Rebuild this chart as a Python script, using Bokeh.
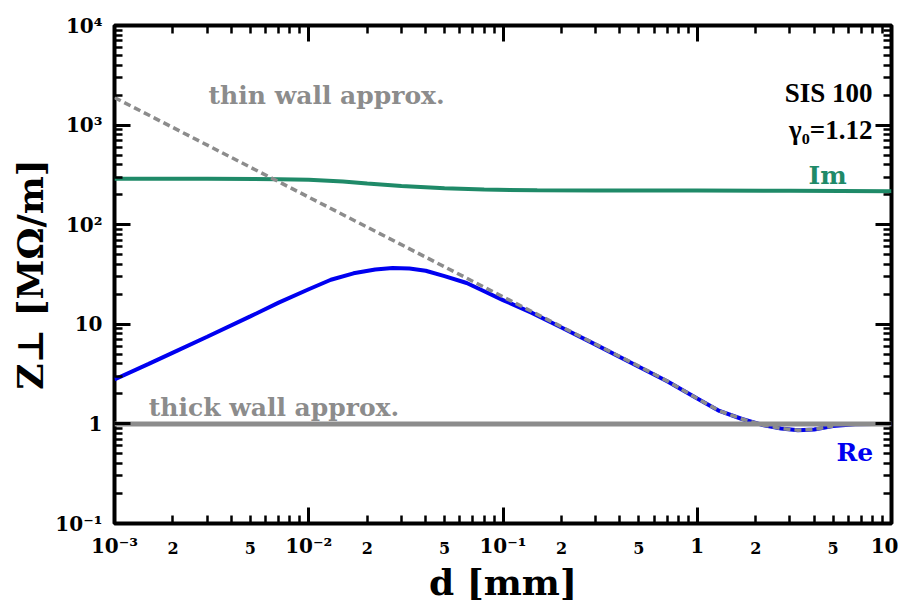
import numpy as np
from bokeh.plotting import figure
from bokeh.models import LogAxis, FixedTicker, Label, Range1d, Title
from bokeh.embed import file_html
from bokeh.resources import INLINE

# ---- data ----
d_im = [0.001, 0.003, 0.007, 0.01, 0.015, 0.02, 0.03, 0.05, 0.08, 0.15, 0.3, 1.0, 3.0, 10.0]
im_vals = [290, 290, 286, 282, 272, 259, 244, 232, 225, 222, 221, 220, 219, 217]

d_re = [0.001, 0.0015, 0.002, 0.003, 0.005, 0.007, 0.01, 0.013, 0.017, 0.022, 0.027,
        0.033, 0.04, 0.05, 0.065, 0.08, 0.1, 0.14, 0.2, 0.3, 0.5, 0.7, 1.0, 1.3, 1.7,
        2.2, 2.7, 3.3, 4.0, 5.0, 6.5, 8.0, 10.0]
re_vals = [2.8, 4.0, 5.2, 7.5, 12.0, 16.5, 22.5, 28.0, 32.5, 35.5, 36.7,
           36.3, 34.5, 30.5, 26.0, 21.5, 17.5, 13.1, 9.3, 6.25, 3.75, 2.68, 1.8, 1.35, 1.12,
           0.97, 0.9, 0.865, 0.88, 0.95, 0.99, 1.0, 1.0]

d_thin = [0.001, 0.01, 0.1, 0.3, 0.5, 0.7, 1.0, 1.3, 1.7, 2.2, 2.7, 3.3, 4.0, 5.0]
thin_vals = [1890, 189, 18.9, 6.3, 3.8, 2.7, 1.8, 1.35, 1.12, 0.97, 0.9, 0.865, 0.88, 0.95]

d_thick = [0.001, 10.0]
thick_vals = [1.0, 1.0]

x_major = [0.001, 0.01, 0.1, 1.0, 10.0]
x_major_labels = ["10⁻³", "10⁻²", "10⁻¹", "1", "10"]
x_minor = [0.002, 0.003, 0.004, 0.005, 0.006, 0.007, 0.008, 0.009,
           0.02, 0.03, 0.04, 0.05, 0.06, 0.07, 0.08, 0.09,
           0.2, 0.3, 0.4, 0.5, 0.6, 0.7, 0.8, 0.9,
           2, 3, 4, 5, 6, 7, 8, 9]
x_small = [0.002, 0.005, 0.02, 0.05, 0.2, 0.5, 2, 5]
x_small_labels = ["2", "5", "2", "5", "2", "5", "2", "5"]

y_major = [0.1, 1.0, 10.0, 100.0, 1000.0, 10000.0]
y_major_labels = ["10⁻¹", "1", "10", "10²", "10³", "10⁴"]
y_minor = [0.2, 0.3, 0.4, 0.5, 0.6, 0.7, 0.8, 0.9,
           2, 3, 4, 5, 6, 7, 8, 9,
           20, 30, 40, 50, 60, 70, 80, 90,
           200, 300, 400, 500, 600, 700, 800, 900,
           2000, 3000, 4000, 5000, 6000, 7000, 8000, 9000]

FONT = "DejaVu Serif"
FONT2 = "Liberation Serif"
GREEN = "#1f8a68"
BLUE = "#0000f0"
GRAY = "#8c8c8c"

p = figure(width=898, height=605, x_axis_type="log", y_axis_type="log",
           x_range=Range1d(1e-3, 10), y_range=Range1d(0.1, 1e4),
           x_axis_location=None, y_axis_location=None,
           output_backend="svg", toolbar_location=None,
           min_border_left=114, min_border_right=7, min_border_top=25,
           min_border_bottom=82)
p.xgrid.visible = False
p.ygrid.visible = False
p.outline_line_color = "black"
p.outline_line_width = 4
p.background_fill_color = "white"
p.border_fill_color = "white"

def style(ax, size=None):
    ax.axis_line_color = None
    ax.major_tick_in = 16
    ax.major_tick_out = 0
    ax.minor_tick_in = 8
    ax.minor_tick_out = 0
    ax.major_tick_line_width = 3
    ax.minor_tick_line_width = 2.5
    ax.major_tick_line_color = "black"
    ax.minor_tick_line_color = "black"
    ax.major_label_text_font = FONT
    ax.major_label_text_font_style = "bold"
    if size:
        ax.major_label_text_font_size = size
        ax.major_label_text_color = "black"
    else:
        ax.major_label_text_font_size = "1px"
        ax.major_label_text_color = None
        ax.major_label_standoff = 0

# bottom: ticks + decade labels
bottom = LogAxis(ticker=FixedTicker(ticks=x_major, minor_ticks=x_minor))
style(bottom, "20px")
bottom.major_label_standoff = 10
bottom.major_label_overrides = dict(zip(x_major, x_major_labels))
p.add_layout(bottom, "below")

# bottom: intermediate 2 / 5 labels and the axis title
bottom2 = LogAxis(ticker=FixedTicker(ticks=x_small, minor_ticks=[]))
style(bottom2, "16px")
bottom2.major_tick_in = 0
bottom2.major_tick_line_color = None
bottom2.minor_tick_line_color = None
bottom2.major_label_standoff = -19
bottom2.major_label_overrides = dict(zip(x_small, x_small_labels))
bottom2.axis_label = "d [mm]"
bottom2.axis_label_text_font = FONT
bottom2.axis_label_text_font_style = "bold"
bottom2.axis_label_text_font_size = "36px"
bottom2.axis_label_text_color = "black"
bottom2.axis_label_standoff = 4
p.add_layout(bottom2, "below")

top = LogAxis(ticker=FixedTicker(ticks=x_major, minor_ticks=x_minor))
style(top)
p.add_layout(top, "above")

left = LogAxis(ticker=FixedTicker(ticks=y_major, minor_ticks=y_minor))
style(left, "20px")
left.major_label_standoff = 12
left.major_label_overrides = dict(zip(y_major, y_major_labels))
p.add_layout(left, "left")

right = LogAxis(ticker=FixedTicker(ticks=y_major, minor_ticks=y_minor))
style(right)
p.add_layout(right, "right")

ytitle = Title(text="Z⊥ [MΩ/m]", align="center", offset=-27, text_font=FONT,
               text_font_style="bold", text_font_size="36px", text_color="black",
               standoff=4)
p.add_layout(ytitle, "left")

# ---- curves ----
p.line(d_im, im_vals, line_color=GREEN, line_width=4)
p.line(d_re, re_vals, line_color=BLUE, line_width=4)
p.line(d_thin, thin_vals, line_color=GRAY, line_width=3.5, line_dash="7 4")
p.line(d_thick, thick_vals, line_color=GRAY, line_width=5)

# ---- texts ----
def lab(x, y, t, color="black", size="25px", align="left", font=FONT):
    p.add_layout(Label(x=x, y=y, text=t, text_color=color, text_font=font,
                       text_font_style="bold", text_font_size=size, text_align=align,
                       text_baseline="alphabetic"))

lab(3.05e-3, 1982, "thin wall approx.", GRAY)
lab(1.50e-3, 1.46, "thick wall approx.", GRAY)
lab(7.98, 2077, "SIS 100", "black", size="27px", align="right", font=FONT2)
lab(7.98, 883, "γ₀=1.12", "black", size="27px", align="right", font=FONT2)
lab(3.74, 312, "Im", GREEN)
lab(5.21, 0.516, "Re", BLUE)

open("out.html", "w").write(file_html(p, INLINE))
